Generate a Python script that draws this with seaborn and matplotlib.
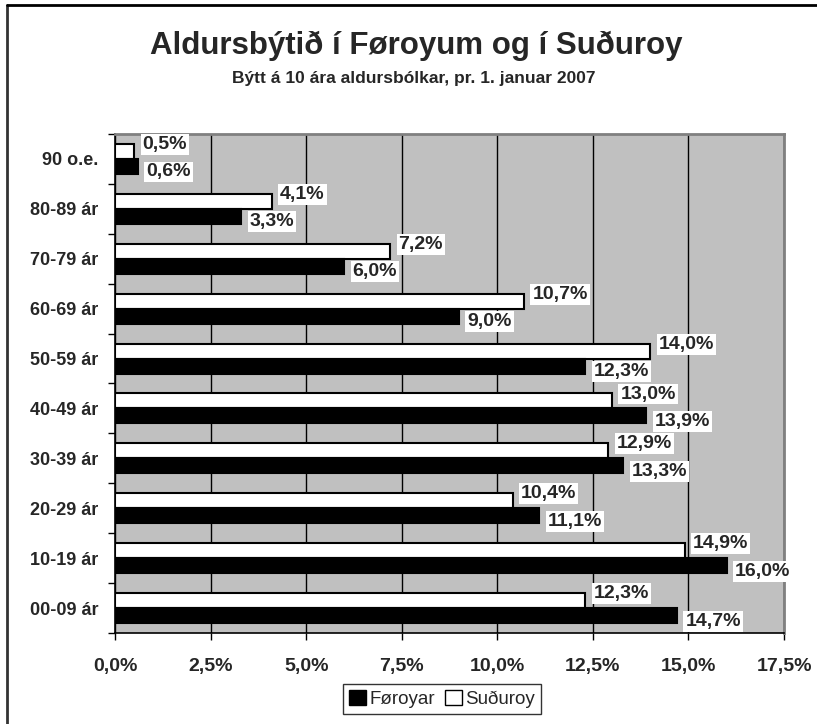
import matplotlib
matplotlib.use('Agg')
import matplotlib.pyplot as plt
from matplotlib.patches import Patch
import numpy as np
import pandas as pd
import seaborn as sns

'''Aldursbýti í Føroyum og í Suðuroy, 10 ára bólkar'''

age_groups = ['90 o.e.', '80-89 ár', '70-79 ár', '60-69 ár', '50-59 ár',
              '40-49 ár', '30-39 ár', '20-29 ár', '10-19 ár', '00-09 ár']
foroyar = [0.6, 3.3, 6.0, 9.0, 12.3, 13.9, 13.3, 11.1, 16.0, 14.7]
suduroy = [0.5, 4.1, 7.2, 10.7, 14.0, 13.0, 12.9, 10.4, 14.9, 12.3]
series = ['Suðuroy', 'Føroyar']
xticks = [0, 2.5, 5, 7.5, 10, 12.5, 15, 17.5]

sns.set_style('white')
plt.rcParams['font.family'] = ['Liberation Sans', 'DejaVu Sans']

df = pd.concat([
    pd.DataFrame({'aldur': age_groups, 'pct': suduroy, 'oki': 'Suðuroy'}),
    pd.DataFrame({'aldur': age_groups, 'pct': foroyar, 'oki': 'Føroyar'}),
])

fig = plt.figure(figsize=(8.17, 7.24), dpi=100)
ax = fig.add_axes([115 / 817, 1 - 633 / 724, (784 - 115) / 817, (633 - 134) / 724])

sns.barplot(data=df, y='aldur', x='pct', hue='oki', hue_order=series, order=age_groups,
            palette={'Suðuroy': 'white', 'Føroyar': 'black'}, orient='h',
            width=0.6, edgecolor='black', linewidth=1.5, saturation=1,
            legend=False, ax=ax, zorder=3)

ax.set_facecolor('#C0C0C0')
ax.set_xlim(0, 17.5)
ax.set_ylim(len(age_groups) - 0.5, -0.5)
ax.set_xticks(xticks)
ax.set_xticklabels([('%.1f%%' % t).replace('.', ',') for t in xticks],
                   fontsize=14, fontweight='bold')
ax.set_yticks(np.arange(len(age_groups)))
ax.set_yticklabels(age_groups, fontsize=13, fontweight='bold')
ax.set_yticks(np.arange(len(age_groups) + 1) - 0.5, minor=True)
ax.tick_params(axis='y', which='major', length=0, pad=12)
ax.tick_params(axis='y', which='minor', length=5, width=1, color='black', direction='out', left=True)
ax.tick_params(axis='x', length=5, width=1, color='black', direction='out', bottom=True, pad=13)
ax.set_xlabel('')
ax.set_ylabel('')
ax.grid(axis='x', color='black', linewidth=1, zorder=1)
ax.set_axisbelow(True)
for side in ['top', 'right']:
    ax.spines[side].set_color('#808080')
    ax.spines[side].set_linewidth(2)
for side in ['left', 'bottom']:
    ax.spines[side].set_color('black')
    ax.spines[side].set_linewidth(1.2)

# data labels, white series a bit above, black a bit below
offsets = {'Suðuroy': 5, 'Føroyar': -4}
for name, cont in zip(series, ax.containers):
    for bar in cont:
        val = bar.get_width()
        yc = bar.get_y() + bar.get_height() / 2
        ax.annotate(('%.1f%%' % val).replace('.', ','), xy=(val, yc),
                    xytext=(6, offsets[name]), textcoords='offset points',
                    ha='left', va='center', fontsize=14, fontweight='bold', zorder=5,
                    bbox=dict(boxstyle='square,pad=0.1', facecolor='white', edgecolor='none'))

fig.text(0.51, 1 - 46 / 724, 'Aldursbýtið í Føroyum og í Suðuroy',
         ha='center', va='center', fontsize=22.5, fontweight='bold')
fig.text(0.506, 1 - 78 / 724, 'Býtt á 10 ára aldursbólkar, pr. 1. januar 2007',
         ha='center', va='center', fontsize=12.5, fontweight='bold')

handles = [Patch(facecolor='black', edgecolor='black', label='Føroyar'),
           Patch(facecolor='white', edgecolor='black', label='Suðuroy')]
leg = fig.legend(handles=handles, loc='center', bbox_to_anchor=(442 / 817, 1 - 699 / 724),
                 ncol=2, fontsize=13.5, frameon=True, fancybox=False, handlelength=0.9,
                 handleheight=0.9, handletextpad=0.2, columnspacing=0.5, borderpad=0.3,
                 borderaxespad=0)
leg.get_frame().set_edgecolor('black')
leg.get_frame().set_linewidth(1)

# outer chart border (only left and top are visible in the picture)
fig.add_artist(plt.Line2D([6.5 / 817, 6.5 / 817], [0, 1 - 4.5 / 724], transform=fig.transFigure,
                          color='#333333', linewidth=2))
fig.add_artist(plt.Line2D([6.5 / 817, 1], [1 - 4.5 / 724, 1 - 4.5 / 724], transform=fig.transFigure,
                          color='black', linewidth=2))

fig.savefig('out.png', dpi=100)
